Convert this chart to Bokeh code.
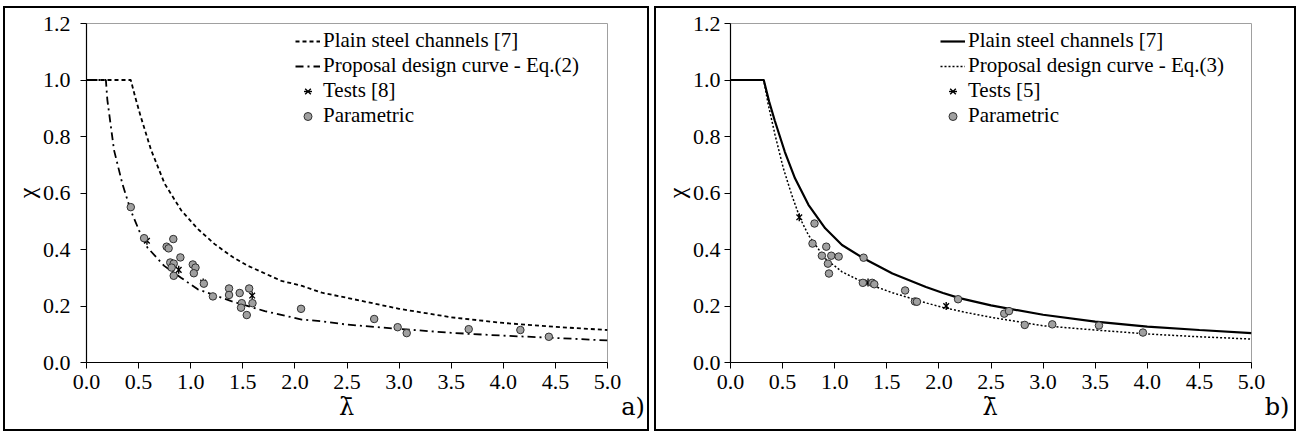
import numpy as np
from bokeh.plotting import figure
from bokeh.models import Range1d, FixedTicker, Legend, LegendItem, PrintfTickFormatter
from bokeh.layouts import row
from bokeh.embed import file_html
from bokeh.resources import INLINE

FONT = "Times New Roman"
NB = "\u00a0"

# ---------------- data ----------------
x_ticks = [0.0, 0.5, 1.0, 1.5, 2.0, 2.5, 3.0, 3.5, 4.0, 4.5, 5.0]
y_ticks = [0.0, 0.2, 0.4, 0.6, 0.8, 1.0, 1.2]

# Panel a)
a_plain_lam = [0.0, 0.425, 0.47, 0.52, 0.62, 0.75, 0.91, 1.07, 1.23, 1.40, 1.55, 1.87, 2.07, 2.26, 2.5, 3.0, 3.5, 4.0, 4.5, 5.0]
a_plain_chi = [1.0, 1.0, 0.936, 0.871, 0.752, 0.633, 0.538, 0.472, 0.419, 0.374, 0.342, 0.289, 0.271, 0.247, 0.229, 0.190, 0.160, 0.140, 0.126, 0.115]

a_prop_lam = [0.0, 0.186, 0.20, 0.264, 0.344, 0.425, 0.505, 0.585, 0.746, 0.907, 1.068, 1.39, 1.711, 2.066, 2.26, 2.5, 3.0, 3.5, 4.0, 4.5, 5.0]
a_prop_chi = [1.0, 1.0, 0.93, 0.752, 0.633, 0.538, 0.467, 0.407, 0.342, 0.300, 0.259, 0.217, 0.182, 0.152, 0.146, 0.134, 0.119, 0.105, 0.095, 0.087, 0.078]

a_test_lam = [0.58, 0.83, 0.885, 1.12, 1.59]
a_test_chi = [0.431, 0.345, 0.328, 0.283, 0.237]

a_par_lam = [0.425, 0.553, 0.833, 0.769, 0.788, 0.901, 0.804, 0.837, 0.817, 0.837, 1.02, 1.046, 1.03,
             1.126, 1.213, 1.368, 1.368, 1.47, 1.561, 1.49, 1.483, 1.593, 1.538, 2.059, 2.761, 2.986,
             3.073, 3.668, 4.164, 4.437]
a_par_chi = [0.550, 0.440, 0.437, 0.410, 0.404, 0.372, 0.354, 0.350, 0.336, 0.307, 0.347, 0.336, 0.316,
             0.279, 0.234, 0.262, 0.239, 0.246, 0.262, 0.210, 0.194, 0.210, 0.168, 0.190, 0.154, 0.125,
             0.104, 0.118, 0.115, 0.091]

# Panel b)
b_plain_lam = [0.0, 0.319, 0.37, 0.426, 0.522, 0.619, 0.748, 0.909, 1.07, 1.28, 1.554, 1.876, 2.04, 2.198, 2.5, 3.0, 3.5, 4.0, 4.5, 5.0]
b_plain_chi = [1.0, 1.0, 0.925, 0.855, 0.745, 0.652, 0.558, 0.475, 0.416, 0.368, 0.315, 0.267, 0.246, 0.228, 0.202, 0.169, 0.145, 0.127, 0.115, 0.104]

b_prop_lam = [0.0, 0.319, 0.361, 0.426, 0.506, 0.587, 0.667, 0.748, 0.909, 1.07, 1.28, 1.554, 1.876, 2.04, 2.263, 2.5, 3.0, 3.5, 4.0, 4.5, 5.0]
b_prop_chi = [1.0, 1.0, 0.915, 0.808, 0.689, 0.594, 0.511, 0.451, 0.368, 0.321, 0.283, 0.247, 0.211, 0.195, 0.177, 0.160, 0.130, 0.115, 0.101, 0.091, 0.083]

b_test_lam = [0.66, 1.32, 2.07]
b_test_chi = [0.514, 0.283, 0.200]

b_par_lam = [0.806, 0.787, 0.919, 0.877, 0.967, 1.038, 0.935, 0.945, 1.277, 1.270, 1.36, 1.38, 1.676,
             1.770, 1.789, 2.184, 2.627, 2.673, 2.824, 3.088, 3.536, 3.958]
b_par_chi = [0.492, 0.421, 0.410, 0.378, 0.378, 0.375, 0.350, 0.315, 0.371, 0.282, 0.282, 0.277, 0.255,
             0.216, 0.215, 0.224, 0.173, 0.182, 0.133, 0.135, 0.131, 0.106]

a_labels = ["Plain steel channels [7]", "Proposal design curve - Eq.(2)", "Tests [8]", "Parametric"]
b_labels = ["Plain steel channels [7]", "Proposal design curve - Eq.(3)", "Tests [5]", "Parametric"]

x_title = "\u03bb\u0304"
y_title = "\u03c7"


def make_panel(width, height, mb, margin, ylab_standoff, plain, prop, tests, par,
               labels, plain_dash, plain_w, prop_dash, prop_w, legend_loc, tag):
    p = figure(width=width, height=height, x_range=Range1d(0, 5), y_range=Range1d(0, 1.2),
               output_backend="svg", toolbar_location=None,
               min_border_left=mb[0], min_border_right=mb[1], min_border_top=mb[2], min_border_bottom=mb[3],
               margin=margin, styles={"border": "2px solid black"})
    p.xgrid.visible = False
    p.ygrid.visible = False
    p.outline_line_color = "#a0a0a0"
    p.outline_line_width = 1
    p.background_fill_color = "white"
    p.border_fill_color = "white"

    for ax in (p.xaxis, p.yaxis):
        ax.major_label_text_font = FONT
        ax.major_label_text_font_size = "22px"
        ax.major_label_text_color = "black"
        ax.axis_label_text_font_style = "normal"
        ax.axis_label_text_color = "black"
        ax.axis_line_color = "black"
        ax.axis_line_width = 1.2
        ax.major_tick_line_color = "black"
        ax.major_tick_in = 0
        ax.major_tick_out = 6
        ax.minor_tick_line_color = None
        ax.formatter = PrintfTickFormatter(format="%.1f")
    p.xaxis.ticker = FixedTicker(ticks=x_ticks)
    p.yaxis.ticker = FixedTicker(ticks=y_ticks)
    p.xaxis.major_label_standoff = 6
    p.yaxis.major_label_standoff = ylab_standoff
    # axis title: lambda-bar centred on the frame, panel tag pushed to the right end
    p.xaxis.axis_label = NB * tag[1] + x_title + NB * tag[2] + tag[0]
    p.xaxis.axis_label_text_font = "DejaVu Serif"
    p.xaxis.axis_label_text_font_size = "24px"
    p.xaxis.axis_label_standoff = 1
    p.yaxis.axis_label = y_title
    p.yaxis.axis_label_text_font = FONT
    p.yaxis.axis_label_text_font_size = "24px"
    p.yaxis.axis_label_standoff = 0

    r_plain = p.line(plain[0], plain[1], line_color="black", line_width=plain_w, line_dash=plain_dash)
    r_prop = p.line(prop[0], prop[1], line_color="black", line_width=prop_w, line_dash=prop_dash)
    r_tx = p.scatter(tests[0], tests[1], marker="x", size=8, line_color="black", line_width=1.4)
    r_td = p.scatter(tests[0], tests[1], marker="dash", angle=np.pi / 2, size=8,
                     line_color="black", line_width=1.4)
    r_par = p.scatter(par[0], par[1], marker="circle", size=7.5, fill_color="#a0a0a0",
                      line_color="#303030", line_width=1)

    legend = Legend(items=[
        LegendItem(label=labels[0], renderers=[r_plain]),
        LegendItem(label=labels[1], renderers=[r_prop]),
        LegendItem(label=labels[2], renderers=[r_tx, r_td]),
        LegendItem(label=labels[3], renderers=[r_par]),
    ], location=legend_loc)
    legend.label_text_font = FONT
    legend.label_text_font_size = "21px"
    legend.label_text_color = "black"
    legend.border_line_color = None
    legend.background_fill_alpha = 0
    legend.padding = 0
    legend.margin = 0
    legend.spacing = 0
    legend.glyph_width = 25
    legend.glyph_height = 20
    legend.label_height = 20
    legend.label_standoff = 3
    p.add_layout(legend)
    return p


pa = make_panel(646, 425, (81, 44, 15, 70), (6, 0, 0, 3), 10,
                (a_plain_lam, a_plain_chi), (a_prop_lam, a_prop_chi),
                (a_test_lam, a_test_chi), (a_par_lam, a_par_chi), a_labels,
                "4 3", 1.8, "8 4 2 4", 1.8, (209, 234), ("a)", 38, 35))
pb = make_panel(642, 425, (74, 47, 14, 71), (6, 0, 0, 5), 4,
                (b_plain_lam, b_plain_chi), (b_prop_lam, b_prop_chi),
                (b_test_lam, b_test_chi), (b_par_lam, b_par_chi), b_labels,
                "solid", 2.2, "2 2", 1.5, (210, 234), ("b)", 38, 35))

layout = row(pa, pb, spacing=0)
open("out.html", "w").write(file_html(layout, INLINE))
